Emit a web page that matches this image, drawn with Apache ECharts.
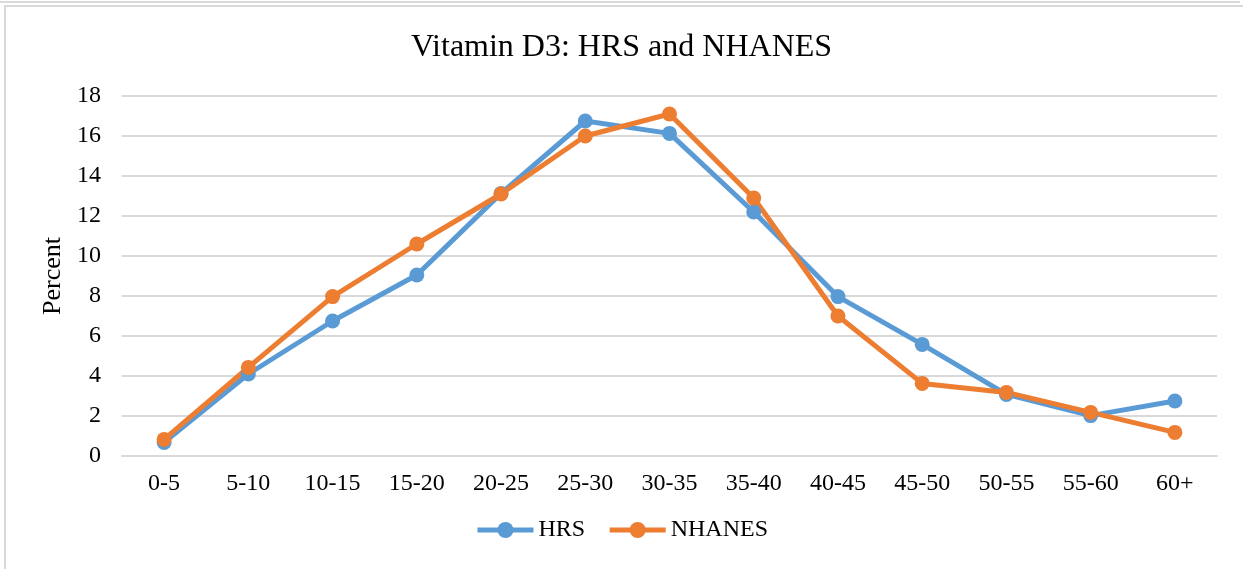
<!DOCTYPE html>
<html>
<head>
<meta charset="utf-8">
<script src="https://cdn.jsdelivr.net/npm/echarts@6/dist/echarts.min.js"></script>
<style>
  html, body { margin: 0; padding: 0; background: #fff; }
  #chart { width: 1243px; height: 569px; }
</style>
</head>
<body>
<div id="chart"></div>
<script>
const categories = ['0-5', '5-10', '10-15', '15-20', '20-25', '25-30', '30-35', '35-40', '40-45', '45-50', '50-55', '55-60', '60+']
const hrs = [0.68, 4.1, 6.75, 9.05, 13.13, 16.75, 16.13, 12.2, 7.97, 5.58, 3.08, 2.02, 2.75]
const nhanes = [0.83, 4.43, 7.97, 10.6, 13.1, 16.0, 17.1, 12.9, 7.0, 3.63, 3.18, 2.18, 1.18]

const font = 'Liberation Serif, Times New Roman, serif'

const chart = echarts.init(document.getElementById('chart'))
chart.setOption({
    backgroundColor: '#fff',
    animation: false,
    graphic: [
        {
            type: 'rect',
            shape: { x: 5, y: 6, width: 1250, height: 600 },
            style: { fill: 'none', stroke: '#d9d9d9', lineWidth: 2 },
            silent: true
        },
        {
            type: 'line',
            shape: { x1: 0, y1: 2, x2: 1240, y2: 2 },
            style: { stroke: '#d9d9d9', lineWidth: 2 },
            silent: true
        }
    ],
    title: {
        text: 'Vitamin D3: HRS and NHANES',
        left: 'center',
        top: 27,
        textStyle: {
            fontFamily: font,
            fontSize: 32,
            fontWeight: 'normal',
            color: '#000'
        }
    },
    grid: {
        left: 122,
        right: 26,
        top: 96,
        bottom: 113
    },
    legend: {
        bottom: 22,
        left: 'center',
        itemWidth: 56,
        itemHeight: 20,
        itemGap: 22,
        lineStyle: { width: 5 },
        textStyle: {
            fontFamily: font,
            fontSize: 24,
            color: '#000'
        },
        data: ['HRS', 'NHANES']
    },
    xAxis: {
        type: 'category',
        data: categories,
        boundaryGap: true,
        axisLine: { lineStyle: { color: '#d9d9d9', width: 2 } },
        axisTick: { show: false },
        axisLabel: {
            fontFamily: font,
            fontSize: 24,
            color: '#000',
            margin: 16
        }
    },
    yAxis: {
        type: 'value',
        min: 0,
        max: 18,
        interval: 2,
        name: 'Percent',
        nameLocation: 'middle',
        nameGap: 52,
        nameTextStyle: {
            fontFamily: font,
            fontSize: 26,
            color: '#000'
        },
        axisLine: { show: false },
        axisTick: { show: false },
        splitLine: { lineStyle: { color: '#d9d9d9', width: 2 } },
        axisLabel: {
            fontFamily: font,
            fontSize: 24,
            color: '#000',
            margin: 21
        }
    },
    series: [
        {
            name: 'HRS',
            type: 'line',
            data: hrs,
            symbol: 'circle',
            symbolSize: 15,
            lineStyle: { color: '#5b9bd5', width: 5 },
            itemStyle: { color: '#5b9bd5' }
        },
        {
            name: 'NHANES',
            type: 'line',
            data: nhanes,
            symbol: 'circle',
            symbolSize: 15,
            lineStyle: { color: '#ed7d31', width: 5 },
            itemStyle: { color: '#ed7d31' }
        }
    ]
})
</script>
</body>
</html>
